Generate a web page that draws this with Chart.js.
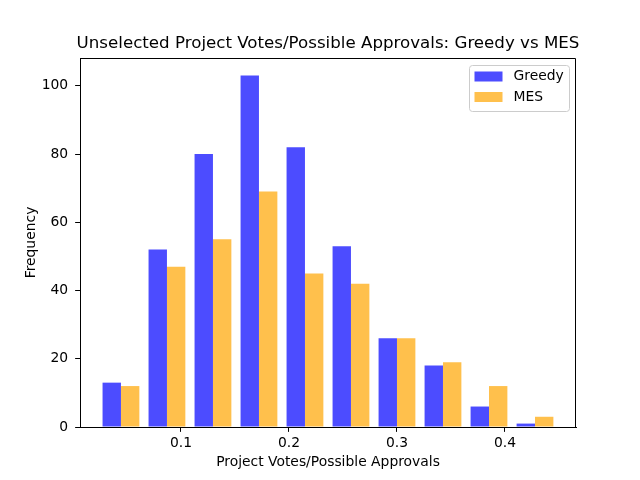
<!DOCTYPE html>
<html>
<head>
<meta charset="utf-8">
<script src="https://cdn.jsdelivr.net/npm/chart.js@4"></script>
<style>
  html, body { margin: 0; padding: 0; background: #fff; }
  #wrap { width: 640px; height: 480px; }
</style>
</head>
<body>
<div id="wrap"><canvas id="hist" width="640" height="480"></canvas></div>
<script>
// histogram bins (centres of the 10 bins) and counts per method
const binCenters = [0.0444, 0.0870, 0.1296, 0.1722, 0.2148, 0.2574, 0.3000, 0.3426, 0.3852, 0.4278];
const greedyCounts = [13, 52, 80, 103, 82, 53, 26, 18, 6, 1];
const mesCounts = [12, 47, 55, 69, 45, 42, 26, 19, 12, 3];

const xTicks = [0.1, 0.2, 0.3, 0.4];
const yTicks = [0, 20, 40, 60, 80, 100];
const xRange = [0.00648, 0.46578];
const yRange = [0, 108.15];

const TITLE = "Unselected Project Votes/Possible Approvals: Greedy vs MES";
const FONT = "DejaVu Sans";
const SMALL = 13.89; // 10pt at 100 dpi

function toPoints(values) {
  return values.map((v, i) => ({ x: binCenters[i], y: v }));
}

// title centred over the axes, top/right spines like matplotlib
const framePlugin = {
  id: "frame",
  afterDraw(chart) {
    const { ctx, chartArea: a } = chart;
    ctx.save();
    ctx.strokeStyle = "#000";
    ctx.lineWidth = 1;
    const l = Math.round(a.left) + 0.5, t = Math.round(a.top) + 0.5;
    const r = Math.round(a.right) - 0.5, b = Math.round(a.bottom);
    ctx.beginPath();
    ctx.moveTo(l, t);
    ctx.lineTo(r, t);
    ctx.lineTo(r, b);
    ctx.stroke();

    ctx.fillStyle = "#000";
    ctx.font = "16.67px '" + FONT + "'";
    ctx.textAlign = "center";
    ctx.textBaseline = "alphabetic";
    ctx.fillText(TITLE, (a.left + a.right) / 2, a.top - 10);
    ctx.restore();
  },
};

// legend box in the upper right of the axes
const legendPlugin = {
  id: "boxLegend",
  afterDraw(chart) {
    const { ctx, chartArea: a } = chart;
    const x0 = a.right - 106.5, y0 = a.top + 7.5, w = 100, h = 46;
    ctx.save();
    ctx.beginPath();
    ctx.roundRect(x0, y0, w, h, 3);
    ctx.fillStyle = "rgba(255,255,255,0.8)";
    ctx.fill();
    ctx.strokeStyle = "#cccccc";
    ctx.lineWidth = 1;
    ctx.stroke();
    ctx.font = SMALL + "px '" + FONT + "'";
    ctx.textBaseline = "middle";
    ctx.textAlign = "left";
    chart.data.datasets.forEach((ds, i) => {
      const cy = y0 + 11 + i * 20.5;
      ctx.fillStyle = ds.backgroundColor;
      ctx.fillRect(x0 + 5, cy - 5, 28, 10);
      ctx.fillStyle = "#000";
      ctx.fillText(ds.label, x0 + 44, cy);
    });
    ctx.restore();
  },
};

new Chart(document.getElementById("hist"), {
  type: "bar",
  data: {
    datasets: [
      { label: "Greedy", data: toPoints(greedyCounts), backgroundColor: "rgba(0,0,255,0.7)", borderWidth: 0 },
      { label: "MES", data: toPoints(mesCounts), backgroundColor: "rgba(255,165,0,0.7)", borderWidth: 0 },
    ],
  },
  options: {
    responsive: false,
    devicePixelRatio: 1,
    animation: false,
    categoryPercentage: 0.8,
    barPercentage: 1.0,
    layout: { padding: { left: 0, right: 64, top: 58, bottom: 0 } },
    plugins: {
      legend: { display: false },
      tooltip: { enabled: false },
      title: { display: false },
    },
    scales: {
      x: {
        type: "linear",
        min: xRange[0],
        max: xRange[1],
        offset: false,
        afterBuildTicks: (s) => { s.ticks = xTicks.map((v) => ({ value: v })); },
        afterFit: (s) => { s.height = 53; },
        grid: { display: true, offset: false, drawOnChartArea: false, drawTicks: true, tickLength: 4.86, color: "#000" },
        border: { display: true, color: "#000", width: 1 },
        ticks: {
          color: "#000",
          font: { family: FONT, size: SMALL },
          padding: 3,
          maxRotation: 0,
          callback: (v) => String(+v.toFixed(1)),
        },
        title: {
          display: true,
          text: "Project Votes/Possible Approvals",
          color: "#000",
          font: { family: FONT, size: SMALL },
          padding: { top: 0, bottom: 9.7 },
        },
      },
      y: {
        min: yRange[0],
        max: yRange[1],
        afterBuildTicks: (s) => { s.ticks = yTicks.map((v) => ({ value: v })); },
        afterFit: (s) => { s.width = 80; },
        grid: { display: true, offset: false, drawOnChartArea: false, drawTicks: true, tickLength: 4.86, color: "#000" },
        border: { display: true, color: "#000", width: 1 },
        ticks: {
          color: "#000",
          font: { family: FONT, size: SMALL },
          padding: 7,
        },
        title: {
          display: true,
          text: "Frequency",
          color: "#000",
          font: { family: FONT, size: SMALL },
          padding: { top: 22.7, bottom: 0 },
        },
      },
    },
  },
  plugins: [framePlugin, legendPlugin],
});
</script>
</body>
</html>
